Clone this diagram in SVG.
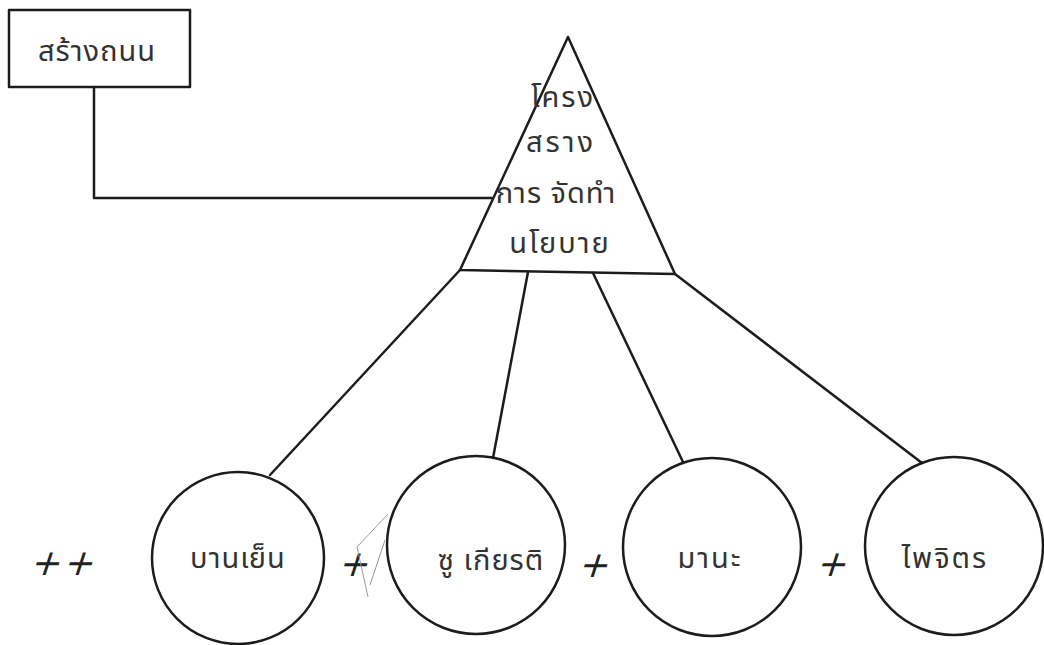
<svg xmlns="http://www.w3.org/2000/svg" width="1044" height="645" viewBox="0 0 1044 645">
<style>
.ln{fill:none;stroke:#1c1c1c;stroke-width:2.5;stroke-linecap:round;stroke-linejoin:round}
.th{font-family:"Noto Sans Thai","Noto Sans","DejaVu Sans","Liberation Sans",sans-serif;font-size:29px;fill:#333;text-anchor:middle}
.pl{font-family:"DejaVu Sans","Liberation Sans",sans-serif;font-size:36px;fill:#222;text-anchor:middle}
</style>
<rect width="1044" height="645" fill="#ffffff"/>
<g id="connectors">
<polyline class="ln" points="94,87 94,198 492,198"/>
<line class="ln" x1="460" y1="270" x2="270" y2="475"/>
<line class="ln" x1="528" y1="272" x2="493" y2="458"/>
<line class="ln" x1="593" y1="273" x2="683" y2="462"/>
<line class="ln" x1="675" y1="274" x2="922" y2="463"/>
</g>
<g id="box-road">
<rect class="ln" x="9" y="10" width="181" height="77"/>
<text class="th" x="97" y="61" font-size="33" letter-spacing="1">สร้างถนน</text>
</g>
<g id="triangle-structure">
<polygon class="ln" points="568,37 460,270 675,274"/>
<text class="th" x="563" y="107" letter-spacing="2">โครง</text>
<text class="th" x="561" y="152" letter-spacing="3">สราง</text>
<text class="th" x="556" y="203" letter-spacing="1">การ จัดทำ</text>
<text class="th" x="560" y="253" letter-spacing="2">นโยบาย</text>
</g>
<g id="circle-banyen">
<circle class="ln" cx="238" cy="558" r="86"/>
<text class="th" x="238" y="568" letter-spacing="1">บานเย็น</text>
</g>
<g id="circle-chukiat">
<circle class="ln" cx="476" cy="545" r="89"/>
<text class="th" x="491" y="570" letter-spacing="1">ซู เกียรติ</text>
</g>
<g id="circle-mana">
<circle class="ln" cx="712" cy="547" r="89"/>
<text class="th" x="710" y="568" letter-spacing="2">มานะ</text>
</g>
<g id="circle-paijit">
<circle class="ln" cx="954" cy="546" r="89"/>
<text class="th" x="945" y="568" letter-spacing="2">ไพจิตร</text>
</g>
<g id="plus-signs">
<text class="pl" transform="translate(44,575) skewX(-18)">+</text>
<text class="pl" transform="translate(77,575) skewX(-18)">+</text>
<text class="pl" transform="translate(352,576) skewX(-18)">+</text>
<text class="pl" transform="translate(592,577) skewX(-18)">+</text>
<text class="pl" transform="translate(830,576) skewX(-18)">+</text>
</g>
<path d="M357,547 L388,514 M357,547 L368,597 M385,540 L370,585" fill="none" stroke="#9a9a9a" stroke-width="1"/>
</svg>
